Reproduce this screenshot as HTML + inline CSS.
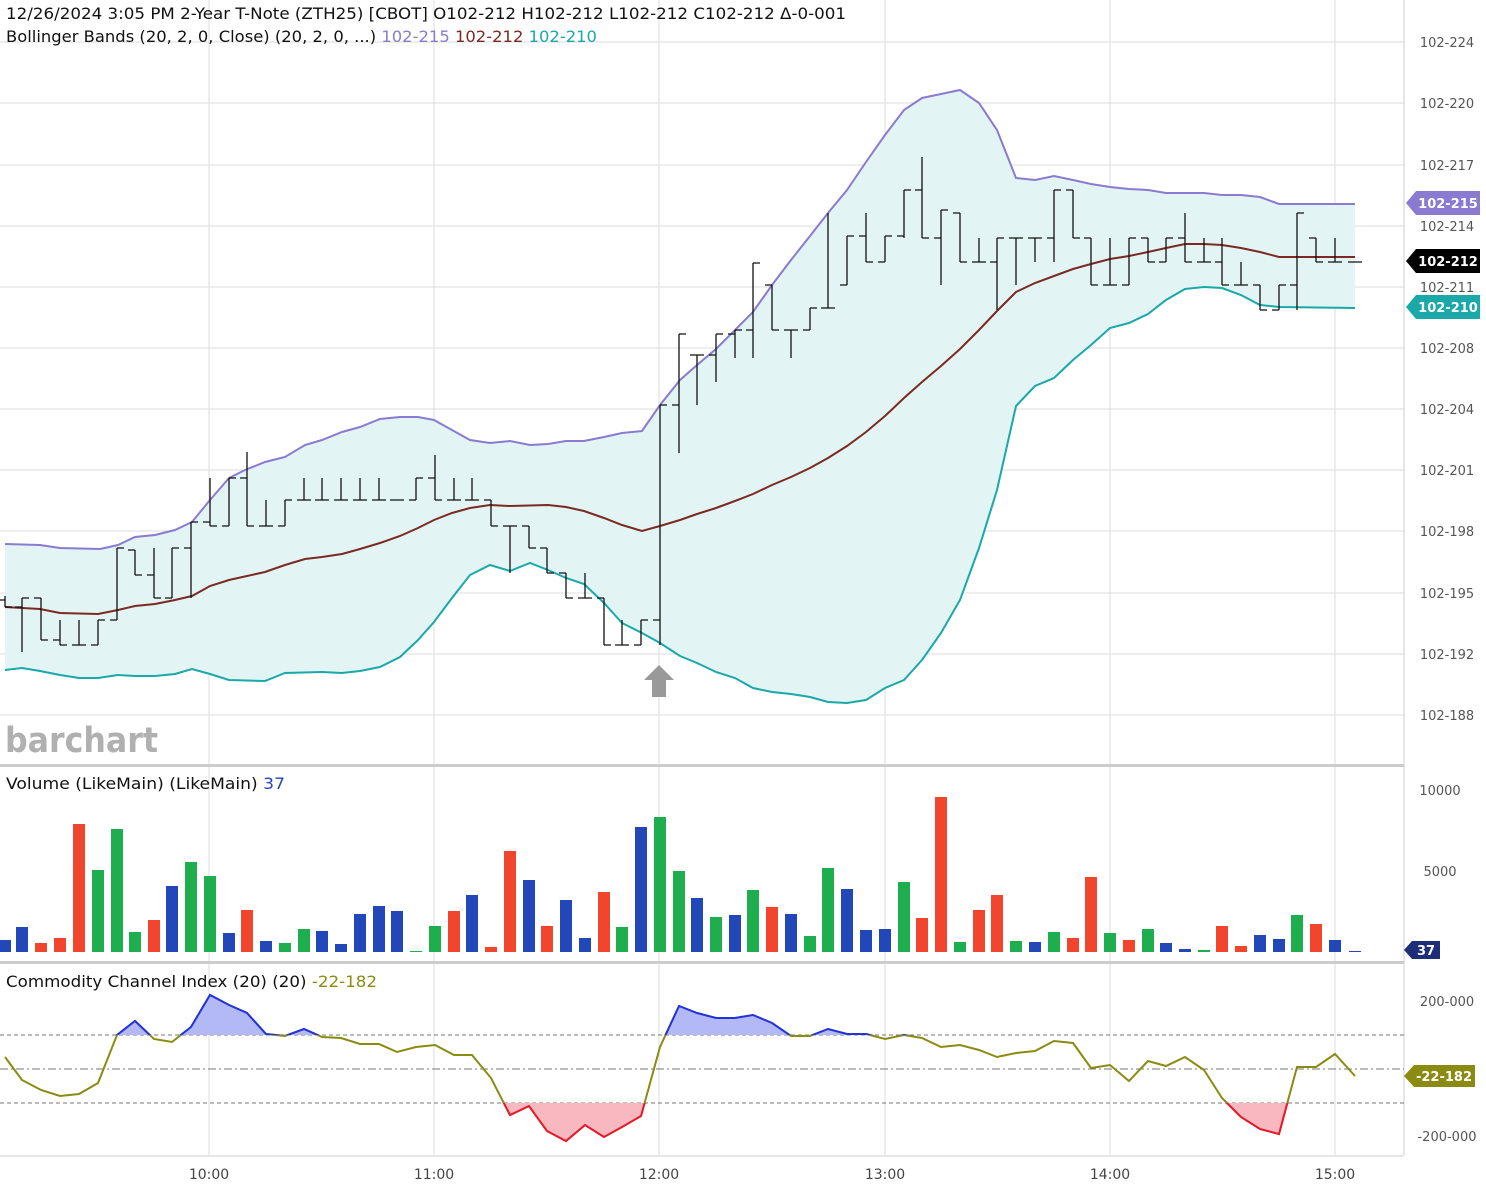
<!DOCTYPE html>
<html><head><meta charset="utf-8"><style>
body{margin:0;background:#fff;font-family:"Liberation Sans",sans-serif}
svg text{font-family:"DejaVu Sans","Liberation Sans",sans-serif}
</style></head><body>
<svg id="s" width="1486" height="1191" xmlns="http://www.w3.org/2000/svg"></svg>
<script>
const S=document.getElementById('s');let h='';
const gy=[[42,'102-224'],[103,'102-220'],[165,'102-217'],[226,'102-214'],[287,'102-211'],[348,'102-208'],[409,'102-204'],[470,'102-201'],[531,'102-198'],[593,'102-195'],[654,'102-192'],[715,'102-188']];
gy.forEach(g=>{h+=`<line x1="0" x2="1404" y1="${g[0]}" y2="${g[0]}" stroke="#ddd"/><text x="1447" y="${g[0]+5}" font-size="13" fill="#555" text-anchor="middle">${g[1]}</text>`});
[209,434,659,885,1110,1335].forEach(x=>h+=`<line x1="${x}" x2="${x}" y1="0" y2="1155" stroke="#ddd"/>`);
const xs=[5,22,41,60,79,98,117,135,154,172,191,210,229,247,266,285,304,322,341,360,379,397,416,435,454,472,491,510,529,547,566,585,604,622,641,660,679,697,716,735,753,772,791,810,828,847,866,885,904,922,941,960,979,997,1016,1035,1054,1073,1091,1110,1129,1148,1166,1185,1204,1222,1241,1260,1279,1297,1316,1335,1355];
const up=[[5,544],[40,545],[60,548],[100,549],[118,545],[135,537],[155,535],[175,530],[192,522],[210,500],[229,478],[245,470],[265,462],[285,457],[305,445],[322,440],[342,432],[360,427],[380,419],[400,417],[418,417],[434,420],[452,430],[470,440],[490,443],[510,441],[530,445],[548,444],[566,441],[584,441],[604,437],[622,433],[642,431],[660,405],[680,380],[697,365],[716,349],[735,330],[753,312],[772,285],[791,260],[810,236],[828,213],[847,190],[866,162],[885,135],[904,110],[922,98],[941,94],[960,90],[979,103],[997,130],[1016,178],[1035,180],[1054,176],[1073,180],[1091,184],[1110,187],[1129,189],[1148,190],[1166,193],[1185,193],[1204,193],[1222,195],[1241,195],[1260,197],[1279,204],[1355,204]];
const md=[[5,607],[40,609],[60,613],[98,614],[118,610],[135,606],[155,604],[175,600],[192,596],[210,586],[229,580],[247,576],[265,572],[285,565],[305,559],[322,557],[342,554],[360,549],[380,543],[400,536],[418,528],[434,520],[452,513],[470,508],[490,505],[510,506],[548,505],[566,507],[584,511],[604,518],[622,525],[642,531],[660,526],[680,520],[697,514],[716,508],[735,501],[753,494],[772,485],[791,477],[810,468],[828,458],[847,446],[866,432],[885,416],[904,398],[922,382],[941,366],[960,349],[979,330],[997,311],[1016,292],[1035,283],[1054,276],[1073,269],[1091,264],[1110,259],[1129,256],[1148,252],[1166,248],[1185,244],[1204,244],[1222,245],[1241,248],[1260,252],[1279,257],[1355,257]];
const lo=[[5,670],[22,668],[40,671],[60,675],[79,678],[98,678],[118,675],[135,676],[155,676],[175,674],[192,669],[210,674],[229,680],[265,681],[285,673],[322,672],[342,673],[360,671],[380,667],[400,657],[418,640],[434,622],[452,598],[470,575],[490,565],[510,571],[530,563],[548,570],[566,578],[584,584],[604,603],[622,623],[642,633],[660,643],[680,656],[697,663],[716,672],[735,678],[753,688],[772,692],[791,694],[810,697],[828,702],[847,703],[866,700],[885,688],[904,680],[922,660],[941,633],[960,600],[979,548],[997,490],[1016,406],[1035,386],[1054,378],[1073,360],[1091,345],[1110,328],[1129,323],[1148,314],[1166,300],[1185,289],[1204,287],[1222,288],[1241,295],[1260,305],[1279,307],[1355,308]];
const P=a=>a.map(p=>p.join(',')).join(' ');
h+=`<polygon points="${P(up)} ${P(lo.slice().reverse())}" fill="#e3f4f4"/>`;
h+=`<polyline points="${P(up)}" fill="none" stroke="#8a7ad0" stroke-width="2"/><polyline points="${P(md)}" fill="none" stroke="#7a2a22" stroke-width="2"/><polyline points="${P(lo)}" fill="none" stroke="#1aa8a8" stroke-width="2"/>`;
const hl=[[596,607],[598,652],[598,640],[620,645],[620,645],[620,645],[548,620],[550,575],[548,598],[548,598],[522,598],[478,526],[478,526],[452,526],[500,526],[500,526],[478,500],[478,500],[478,500],[478,500],[478,500],[500,500],[478,500],[455,500],[478,500],[478,500],[500,526],[526,573],[526,548],[548,573],[573,598],[573,598],[598,645],[620,645],[620,645],[405,645],[334,453],[355,405],[334,382],[330,358],[263,358],[285,330],[330,358],[308,330],[213,308],[236,285],[213,262],[236,262],[190,238],[157,238],[210,285],[213,262],[238,262],[238,310],[238,285],[238,262],[190,262],[190,238],[238,285],[238,285],[238,285],[238,262],[238,262],[213,262],[238,262],[238,285],[262,285],[285,310],[285,310],[213,310],[238,262],[238,262],[262,262]];
let pc=600;
hl.forEach((b,i)=>{const x=xs[i];const nx=hl[i+1]?(hl[i+1][0]+hl[i+1][1])/2:b[0];const o=Math.min(Math.max(pc,b[0]),b[1]);const c=Math.abs(nx-b[0])<Math.abs(nx-b[1])?b[0]:b[1];pc=c;
h+=`<path d="M${x} ${b[0]}V${b[1]}M${x-7} ${o}H${x}M${x} ${c}H${x+7}" stroke="#111" stroke-width="1.3" fill="none"/>`});
h+=`<polygon points="652,680 644,680 659,665 674,680 666,680 666,697 652,697" fill="#999"/>`;
h+=`<text x="5" y="752" font-size="35" font-weight="bold" fill="#b0b0b0" textLength="153" lengthAdjust="spacingAndGlyphs">barchart</text>`;
h+=`<text x="6" y="19" font-size="16" fill="#111" textLength="840" lengthAdjust="spacingAndGlyphs">12/26/2024 3:05 PM 2-Year T-Note (ZTH25) [CBOT] O102-212 H102-212 L102-212 C102-212 Δ-0-001</text>`;
h+=`<text x="6" y="42" font-size="16" fill="#111" textLength="591" lengthAdjust="spacingAndGlyphs">Bollinger Bands (20, 2, 0, Close)  (20, 2, 0, ...) <tspan fill="#8a7ad0">102-215</tspan> <tspan fill="#7a2a22">102-212</tspan> <tspan fill="#1aa8a8">102-210</tspan></text>`;
const tag=(y,t,c,w)=>`<polygon points="1406,${y} 1416,${y-12} ${1406+w},${y-12} ${1406+w},${y+12} 1416,${y+12}" fill="${c}"/><text x="${1411+w/2}" y="${y+5}" font-size="13" font-weight="bold" fill="#fff" text-anchor="middle">${t}</text>`;
h+=tag(203,'102-215','#8a7ad0',74)+tag(261,'102-212','#000',74)+tag(307,'102-210','#1aa8a8',74);
h+=`<line x1="1404" x2="1404" y1="0" y2="1155" stroke="#ccc"/><rect x="0" y="764" width="1404" height="3" fill="#ccc"/><rect x="0" y="961" width="1404" height="3" fill="#ccc"/><line x1="0" x2="1404" y1="1156" y2="1156" stroke="#ccc"/>`;
h+=`<text x="6" y="789" font-size="16" fill="#111" textLength="279" lengthAdjust="spacingAndGlyphs">Volume (LikeMain)  (LikeMain) <tspan fill="#2247b8">37</tspan></text>`;
h+=`<text x="1440" y="795" font-size="13" fill="#555" text-anchor="middle">10000</text><text x="1440" y="876" font-size="13" fill="#555" text-anchor="middle">5000</text>`;
const vt=[940,927,943,938,824,870,829,932,920,886,862,876,933,910,941,943,929,931,944,914,906,911,951,926,911,895,947,851,880,926,900,938,892,927,827,817,871,898,917,915,890,907,914,936,868,889,930,929,882,918,797,942,910,895,941,942,932,938,877,933,940,929,943,949,950,926,946,935,939,915,924,940,951];
const vc='bbrrrgggrbggbrbggbbbbbggrbrrbrbbrgbggbgbgrbggbbbgrrgrrgbgrrgrgbbgrrbbgrbb';
const col={r:'#f2452d',g:'#1fae4e',b:'#2247b8'};
vt.forEach((t,i)=>{h+=`<rect x="${xs[i]-6}" y="${t}" width="12" height="${952-t}" fill="${col[vc[i]]}"/>`});
h+=`<polygon points="1404,950 1412,941 1440,941 1440,959 1412,959" fill="#1e2f7a"/><text x="1426" y="955" font-size="13" font-weight="bold" fill="#fff" text-anchor="middle">37</text>`;
h+=`<text x="6" y="987" font-size="16" fill="#111" textLength="371" lengthAdjust="spacingAndGlyphs">Commodity Channel Index (20)  (20) <tspan fill="#8b8b12">-22-182</tspan></text>`;
h+=`<text x="1447" y="1006" font-size="13" fill="#555" text-anchor="middle">200-000</text><text x="1447" y="1141" font-size="13" fill="#555" text-anchor="middle">-200-000</text>`;
h+=`<line x1="0" x2="1404" y1="1035" y2="1035" stroke="#777" stroke-dasharray="4,3"/><line x1="0" x2="1404" y1="1103" y2="1103" stroke="#777" stroke-dasharray="4,3"/><line x1="0" x2="1404" y1="1069" y2="1069" stroke="#777" stroke-dasharray="8,3,2,3"/>`;
const cy=[1057,1080,1090,1096,1094,1083,1035,1021,1039,1042,1027,995,1005,1013,1034,1036,1029,1037,1038,1044,1044,1052,1047,1045,1055,1055,1078,1115,1106,1131,1141,1125,1137,1127,1116,1047,1006,1013,1018,1018,1015,1023,1036,1036,1029,1034,1034,1039,1035,1038,1047,1045,1050,1057,1053,1051,1041,1043,1068,1065,1081,1061,1066,1057,1070,1098,1117,1129,1134,1067,1067,1054,1076];
const cp=cy.map((y,i)=>xs[i]+','+y).join(' ');
h+=`<defs><clipPath id="a"><rect x="0" y="960" width="1404" height="75"/></clipPath><clipPath id="b"><rect x="0" y="1103" width="1404" height="60"/></clipPath></defs>`;
h+=`<polyline points="${cp}" fill="none" stroke="#8b8b12" stroke-width="2"/>`;
h+=`<g clip-path="url(#a)"><polygon points="5,1035 ${cp} 1355,1035" fill="#b3b9f5"/><polyline points="${cp}" fill="none" stroke="#2233dd" stroke-width="2"/></g>`;
h+=`<g clip-path="url(#b)"><polygon points="5,1103 ${cp} 1355,1103" fill="#f8b8bf"/><polyline points="${cp}" fill="none" stroke="#e8192c" stroke-width="2"/></g>`;
h+=`<polygon points="1404,1076 1414,1065 1475,1065 1475,1087 1414,1087" fill="#8b8b12"/><text x="1444" y="1081" font-size="13" font-weight="bold" fill="#fff" text-anchor="middle">-22-182</text>`;
[[209,'10:00'],[434,'11:00'],[659,'12:00'],[885,'13:00'],[1110,'14:00'],[1335,'15:00']].forEach(t=>h+=`<text x="${t[0]}" y="1179" font-size="14" fill="#444" text-anchor="middle">${t[1]}</text>`);
S.innerHTML=h;
</script>
</body></html>
